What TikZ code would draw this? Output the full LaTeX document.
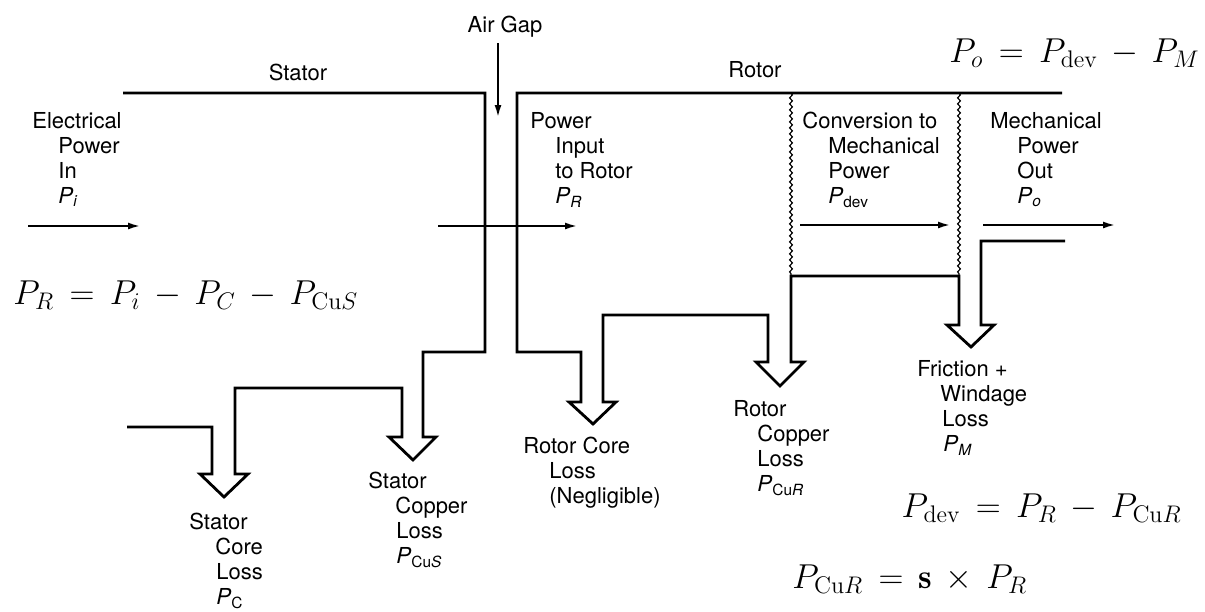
\documentclass[tikz,border=0pt]{standalone}
\usepackage{fontspec}
\setsansfont{TeX Gyre Heros}
\usetikzlibrary{arrows.meta,decorations.pathmorphing}

\newcommand{\pw}[1]{\textit{P}\textsubscript{#1}}

\tikzset{
  lbl/.style={font=\sffamily\fontsize{11}{12.5}\selectfont, align=left, anchor=north west, inner sep=0pt},
  head/.style={font=\sffamily\fontsize{11}{13}\selectfont, inner sep=0pt},
  eqn/.style={font=\fontsize{17.28}{20}\selectfont, anchor=base west, inner sep=0pt},
  band/.style={line width=1.4pt, line join=miter},
  flow/.style={line width=0.9pt, -{Latex[length=6pt,width=3.5pt]}},
  wave/.style={decorate, decoration={snake, amplitude=0.7pt, segment length=3pt}, line width=0.6pt}
}

\begin{document}
\begin{tikzpicture}[x=0.5pt,y=-0.5pt]
\useasboundingbox (0,0) rectangle (1205,611);

% headings
\node[head] (airgap) at (505,27) {Air Gap};
\node[head] (stator) at (298,72) {Stator};
\node[head] (rotor) at (755,70) {Rotor};

% stator side of the flow
\draw[band] (123,93) -- (485,93) -- (485,352) -- (423,352) -- (423,437)
  -- (436,437) -- (413,460) -- (389,437) -- (402,437) -- (402,388)
  -- (235,388) -- (235,474) -- (248,474) -- (224,497) -- (200,474)
  -- (212,474) -- (212,427) -- (127,427);

% rotor side of the flow
\draw[band] (1062,93) -- (517,93) -- (517,352) -- (581,352) -- (581,402)
  -- (569,402) -- (593,424) -- (616,402) -- (603,402) -- (603,315)
  -- (768,315) -- (768,362) -- (756,362) -- (780,386) -- (804,362)
  -- (791,362) -- (791,276) -- (959,276) -- (959,325) -- (947,325)
  -- (971,347) -- (994,325) -- (981,325) -- (981,241) -- (1065,241);

% conversion zone
\draw[wave] (791,93) -- (791,276);
\draw[wave] (959,93) -- (959,276);

% power arrows
\coordinate (pi-s) at (28,226);
\coordinate (pi-e) at (140,226);
\coordinate (pr-s) at (438,226);
\coordinate (pr-e) at (577,226);
\coordinate (pd-s) at (800,225);
\coordinate (pd-e) at (950,225);
\coordinate (po-s) at (983,225);
\coordinate (po-e) at (1115,225);
\coordinate (ag-s) at (498,43);
\coordinate (ag-e) at (498,117);
\draw[flow] (pi-s) -- (pi-e);
\draw[flow] (pr-s) -- (pr-e);
\draw[flow] (pd-s) -- (pd-e);
\draw[flow] (po-s) -- (po-e);
\draw[flow] (ag-s) -- (ag-e);

% labels
\node[lbl] (elecin) at (32,112) {Electrical\\\hspace*{13pt}Power\\\hspace*{13pt}In\\\hspace*{13pt}\pw{\textit{i}}};
\node[lbl] (rotorin) at (530,112) {Power\\\hspace*{12.5pt}Input\\\hspace*{12.5pt}to Rotor\\\hspace*{12.5pt}\pw{\textit{R}}};
\node[lbl] (conv) at (802,112) {Conversion to\\\hspace*{13pt}Mechanical\\\hspace*{13pt}Power\\\hspace*{13pt}\pw{dev}};
\node[lbl] (mechout) at (990,112) {Mechanical\\\hspace*{13.5pt}Power\\\hspace*{13.5pt}Out\\\hspace*{13.5pt}\pw{\textit{o}}};
\node[lbl] (friction) at (917,360) {Friction +\\\hspace*{11.5pt}Windage\\\hspace*{12.5pt}Loss\\\hspace*{13pt}\pw{\textit{M}}};
\node[lbl] (rcopper) at (733,400) {Rotor\\\hspace*{12pt}Copper\\\hspace*{12pt}Loss\\\hspace*{12pt}\pw{Cu\textit{R}}};
\node[lbl] (rcore) at (523,437) {Rotor Core\\\hspace*{13pt}Loss\\\hspace*{13pt}(Negligible)};
\node[lbl] (scopper) at (368,472) {Stator\\\hspace*{13.5pt}Copper\\\hspace*{14pt}Loss\\\hspace*{14pt}\pw{Cu\textit{S}}};
\node[lbl] (score) at (189,513) {Stator\\\hspace*{13pt}Core\\\hspace*{13.5pt}Loss\\\hspace*{13.5pt}\pw{C}};

% relations
\node[eqn] (eqrotor) at (13,304) {$P_R \,=\, P_i \,-\, P_C \,-\, P_{\mathrm{Cu}S}$};
\node[eqn, anchor=base east] (eqout) at (1200,62) {$P_o \,=\, P_{\mathrm{dev}} \,-\, P_M$};
\node[eqn, anchor=base east] (eqdev) at (1182,517) {$P_{\mathrm{dev}} \,=\, P_R \,-\, P_{\mathrm{Cu}R}$};
\node[eqn] (eqslip) at (792,588) {$P_{\mathrm{Cu}R} \,=\, \mathbf{s} \,\times\, P_R$};
\end{tikzpicture}
\end{document}
